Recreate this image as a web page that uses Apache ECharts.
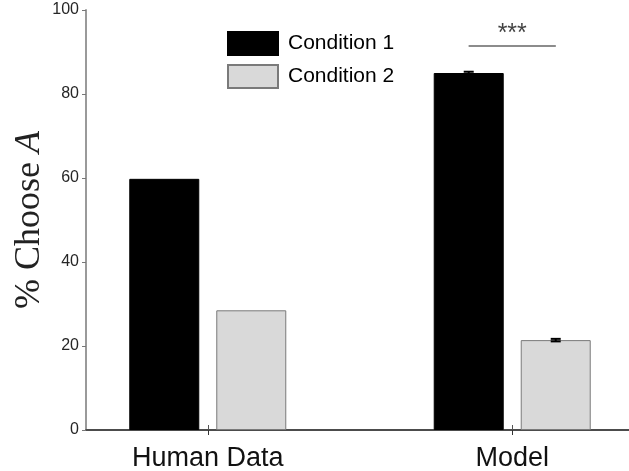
<!DOCTYPE html>
<html>
<head>
<meta charset="utf-8">
<script src="https://cdn.jsdelivr.net/npm/echarts@6/dist/echarts.min.js"></script>
<style>
  html, body { margin: 0; padding: 0; background: #fff; }
  #chart { width: 629px; height: 471px; }
</style>
</head>
<body>
<div id="chart"></div>
<script>
// data
const categories = ['Human Data', 'Model'];
const seriesNames = ['Condition 1', 'Condition 2'];
const cond1 = [59.8, 85.0];
const cond2 = [28.5, 21.4];
const cond1Err = [0, 0.3];
const cond2Err = [0, 0.3];
const yTicks = [0, 20, 40, 60, 80, 100];
const sigLevel = 91.4;      // height of the significance bar
const sigStars = '***';
const sigStarLevel = 94.2;

const catPos = categories.map((c, i) => i + 1);
const barW = 70;
const barOff = 43.5; // px from group centre to bar centre

const chart = echarts.init(document.getElementById('chart'));

function errItem(sign) {
  return function (params, api) {
    const x = api.value(0), y = api.value(1), e = api.value(2);
    if (!e) return null;
    const top = api.coord([x, y + e]);
    const bot = api.coord([x, y - e]);
    const cx = top[0] + sign * barOff;
    const style = { stroke: '#000', lineWidth: 2 };
    return {
      type: 'group',
      children: [
        { type: 'line', shape: { x1: cx, y1: top[1], x2: cx, y2: bot[1] }, style },
        { type: 'line', shape: { x1: cx - 5, y1: top[1], x2: cx + 5, y2: top[1] }, style },
        { type: 'line', shape: { x1: cx - 5, y1: bot[1], x2: cx + 5, y2: bot[1] }, style }
      ]
    };
  };
}

const model = categories.length; // model group position
const sigX = [model - barOff / 303.7, model + barOff / 303.7];

const option = {
  animation: false,
  textStyle: { fontFamily: 'Liberation Sans, Arial, sans-serif' },
  grid: { left: 86, top: 10, right: -5, bottom: 41, outerBoundsMode: 'none' },
  legend: {
    data: seriesNames,
    orient: 'vertical',
    left: 227,
    top: 31,
    padding: 0,
    itemWidth: 50,
    itemHeight: 23,
    itemGap: 8,
    icon: 'rect',
    textStyle: { fontSize: 21, color: '#000', padding: [2, 0, 0, 5] }
  },
  xAxis: [
    {
      type: 'value',
      min: 0.6,
      max: 2.4,
      position: 'bottom',
      splitLine: { show: false },
      axisLine: { lineStyle: { color: '#9a9a9a', width: 2 } },
      axisTick: { show: true, inside: true, length: 5, customValues: catPos, lineStyle: { color: '#555' } },
      axisLabel: {
        customValues: catPos,
        formatter: v => categories[Math.round(v) - 1],
        fontSize: 27,
        color: '#111',
        margin: 15
      }
    },
    {
      type: 'value',
      min: 0.6,
      max: 2.4,
      position: 'top',
      splitLine: { show: false },
      axisLine: { lineStyle: { color: '#333', width: 1.5 } },
      axisTick: { show: true, inside: true, length: 5, customValues: catPos, lineStyle: { color: '#333' } },
      axisLabel: { show: false }
    }
  ],
  yAxis: [
    {
      type: 'value',
      min: yTicks[0],
      max: yTicks[yTicks.length - 1],
      interval: 20,
      splitLine: { show: false },
      axisLine: { show: true, lineStyle: { color: '#9a9a9a', width: 2 } },
      axisTick: { show: true, inside: false, length: 4, lineStyle: { color: '#777' } },
      axisLabel: { fontSize: 16, color: '#262626', margin: 7 },
      name: '{a|% Choose }{b|A}',
      nameLocation: 'middle',
      nameRotate: 90,
      nameGap: 38,
      nameMoveOverlap: false,
      nameTextStyle: {
        rich: {
          a: { fontFamily: 'Liberation Serif, DejaVu Serif, serif', fontSize: 36, color: '#222' },
          b: { fontFamily: 'Liberation Serif, DejaVu Serif, serif', fontSize: 36, fontStyle: 'italic', color: '#222' }
        }
      }
    },
    {
      type: 'value',
      min: yTicks[0],
      max: yTicks[yTicks.length - 1],
      interval: 20,
      position: 'right',
      splitLine: { show: false },
      axisLine: { show: true, lineStyle: { color: '#333' } },
      axisTick: { show: true, inside: true, length: 5, lineStyle: { color: '#333' } },
      axisLabel: { show: false }
    }
  ],
  series: [
    {
      name: seriesNames[0],
      type: 'bar',
      barWidth: barW,
      barGap: (2 * barOff - barW) / barW * 100 + '%',
      itemStyle: { color: '#000', borderColor: '#000', borderWidth: 1 },
      data: cond1.map((v, i) => [catPos[i], v])
    },
    {
      name: seriesNames[1],
      type: 'bar',
      barWidth: barW,
      itemStyle: { color: '#d9d9d9', borderColor: '#7a7a7a', borderWidth: 1 },
      data: cond2.map((v, i) => [catPos[i], v])
    },
    {
      type: 'custom',
      renderItem: errItem(-1),
      data: cond1.map((v, i) => [catPos[i], v, cond1Err[i]]),
      z: 5
    },
    {
      type: 'custom',
      renderItem: errItem(1),
      data: cond2.map((v, i) => [catPos[i], v, cond2Err[i]]),
      z: 5
    },
    {
      type: 'line',
      symbol: 'none',
      lineStyle: { color: '#8c8c8c', width: 2 },
      data: sigX.map(x => [x, sigLevel]),
      z: 5
    },
    {
      type: 'scatter',
      symbolSize: 0,
      data: [[model, sigStarLevel]],
      label: {
        show: true,
        position: 'inside',
        formatter: sigStars,
        fontSize: 25,
        color: '#111'
      }
    }
  ]
};

chart.setOption(option);
</script>
</body>
</html>
